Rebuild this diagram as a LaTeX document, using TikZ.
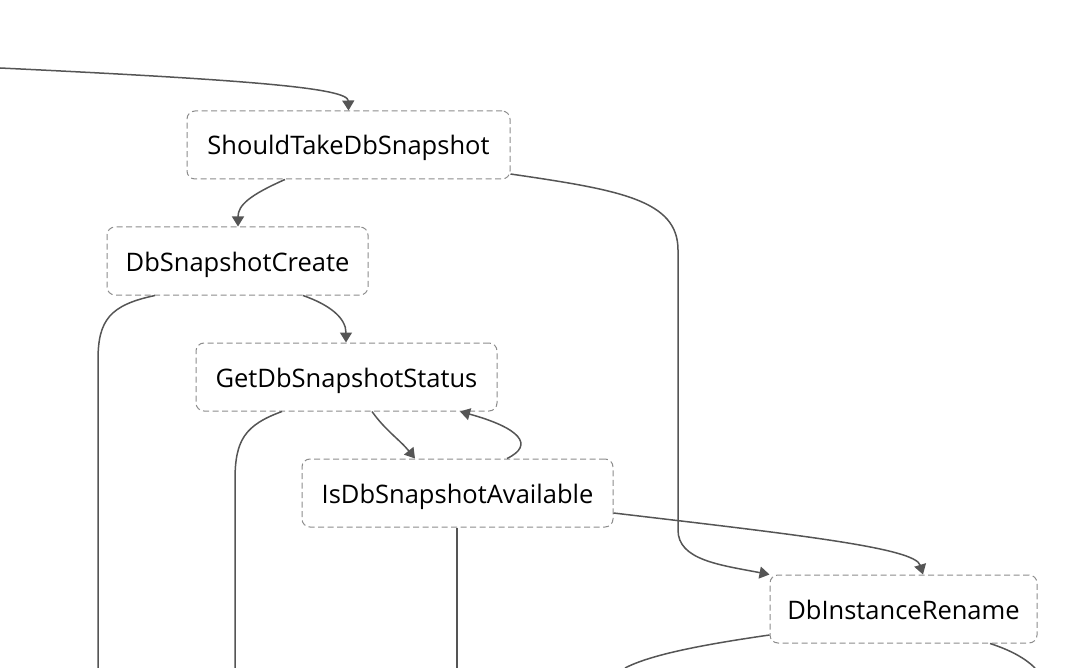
\documentclass[tikz,border=0pt]{standalone}
\usepackage{fontspec}
\setmainfont{Open Sans}
\usepackage{xcolor}
\usepackage{tikz}
\usetikzlibrary{positioning}
\usetikzlibrary{arrows.meta}

\definecolor{edgegray}{HTML}{555555}
\definecolor{boxgray}{HTML}{8C8C8C}

\begin{document}
\begin{tikzpicture}[x=1pt,y=-1pt,
  statebox/.style={draw=boxgray,line width=1pt,dash pattern=on 6pt off 3.5pt,rounded corners=8pt,
    minimum height=68pt,inner sep=0pt,text height=20pt,text depth=0pt,text=black,
    font=\fontsize{25.5}{30}\selectfont},
  flow/.style={draw=edgegray,line width=1.5pt,-{Triangle[length=10pt,width=12pt]}},
  link/.style={draw=edgegray,line width=1.5pt}]
\useasboundingbox (0,0) rectangle (1070,668);

\node[statebox,minimum width=323pt] (should) at (348.5,145) {ShouldTakeDbSnapshot};
\node[statebox,minimum width=261pt] (create) at (237.5,261) {DbSnapshotCreate};
\node[statebox,minimum width=301pt] (status) at (346.5,377) {GetDbSnapshotStatus};
\node[statebox,minimum width=311pt] (avail)  at (457.5,493) {IsDbSnapshotAvailable};
\node[statebox,minimum width=267pt] (rename) at (903.5,609) {DbInstanceRename};

\coordinate (entry) at (0,68);
\coordinate (createout) at (98,668);
\coordinate (statusout) at (235,668);
\coordinate (availout)  at (457,668);
\coordinate (renameleft) at (625,668);
\coordinate (renameright) at (1035,668);

\path[flow] (entry) .. controls (250,80) and (348,88) .. (should.north);
\path[flow] ([xshift=-63.5pt]should.south) .. controls (250,195) and (238,205) .. ([xshift=0.5pt]create.north);
\path[flow] ([yshift=-29pt]should.east) .. controls (620,190) and (678,200) .. (678,250)
      -- (678,530) .. controls (678,560) and (720,565) .. (rename.north west);
\path[link] ([xshift=-82.5pt]create.south) .. controls (110,305) and (98,320) .. (98,360) -- (createout);
\path[flow] ([xshift=65.5pt]create.south) .. controls (330,305) and (346,318) .. ([xshift=-0.5pt]status.north);
\path[link] ([xshift=-64.5pt]status.south) .. controls (245,425) and (235,440) .. (235,480) -- (statusout);
\path[flow] ([xshift=25.5pt]status.south) .. controls (385,430) and (400,440) .. ([xshift=-42.5pt]avail.north);
\path[flow] ([xshift=49.5pt]avail.north) .. controls (535,445) and (520,428) .. ([xshift=113.5pt]status.south);
\path[link] ([xshift=-0.5pt]avail.south) -- (availout);
\path[flow] ([yshift=-20pt]avail.east) .. controls (800,535) and (915,548) .. ([xshift=19.5pt]rename.north);
\path[link] ([yshift=-26pt]rename.west) .. controls (700,645) and (650,655) .. (renameleft);
\path[link] ([xshift=86.5pt]rename.south) .. controls (1010,650) and (1025,658) .. (renameright);

\end{tikzpicture}
\end{document}
